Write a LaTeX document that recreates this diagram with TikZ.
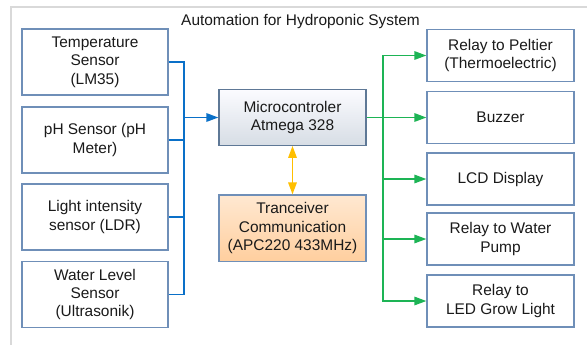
\documentclass[tikz,border=0pt]{standalone}
\usepackage{fontspec}
\setmainfont{Liberation Sans}
\usetikzlibrary{arrows.meta}
\definecolor{bord}{HTML}{6F8FB8}
\definecolor{mcbord}{HTML}{5E7896}
\definecolor{frame}{HTML}{D9D9D9}
\definecolor{blueline}{HTML}{0A70C8}
\definecolor{greenline}{HTML}{1DB455}
\definecolor{orangeline}{HTML}{FFBF00}
\definecolor{txt}{HTML}{1A1A1A}
\begin{document}
\begin{tikzpicture}[x=1bp,y=-1bp,
  txtfont/.style={font=\fontsize{15.5}{18.5}\selectfont, text=txt},
  box/.style={draw=bord, line width=1.3bp, fill=white, align=center, inner sep=0pt, txtfont},
  lbox/.style={box, minimum width=146bp, minimum height=66bp},
  rbox/.style={box, minimum width=147bp, minimum height=52bp},
  bconn/.style={draw=blueline, line width=1.6bp},
  gconn/.style={draw=greenline, line width=1.6bp},
  oconn/.style={draw=orangeline, line width=1.6bp},
  tip/.style={-{Triangle[length=12bp,width=8.5bp]}},
  tips/.style={{Triangle[length=12bp,width=8.5bp]}-{Triangle[length=12bp,width=8.5bp]}}
]
\useasboundingbox (0,0) rectangle (587,344);
\draw[frame, line width=1.6bp] (11,400) -- (11,7) -- (620,7);
\node[txtfont] (title) at (300.5,22) {Automation for Hydroponic System};

\node[lbox] (t1) at (95,62) {Temperature\\Sensor\\(LM35)};
\node[lbox] (t2) at (95,140) {pH Sensor (pH\\Meter)};
\node[lbox] (t3) at (95,217) {Light intensity\\sensor (LDR)};
\node[lbox] (t4) at (95,294.5) {Water Level\\Sensor\\(Ultrasonik)};

\node[box, draw=mcbord, top color=white!96!blue!40, bottom color=mcbord!25, minimum width=147bp, minimum height=55.5bp] (mc) at (292.5,117.5) {Microcontroler\\Atmega 328};
\node[box, draw=bord, top color=orange!18!white, bottom color=orange!38!white, minimum width=147bp, minimum height=66.5bp] (tr) at (292.5,228.3) {Tranceiver\\Communication\\(APC220 433MHz)};

\node[rbox] (r1) at (500.5,55.5) {Relay to Peltier\\(Thermoelectric)};
\node[rbox] (r2) at (500.5,117.5) {Buzzer};
\node[rbox] (r3) at (500.5,179) {LCD Display};
\node[rbox] (r4) at (500.5,239) {Relay to Water\\Pump};
\node[rbox] (r5) at (500.5,301) {Relay to\\LED Grow Light};

\coordinate (bj) at (184,117.5);
\draw[bconn] (t1.east) -| (bj);
\draw[bconn] (t4.east) -| (bj);
\draw[bconn] (t2.east) -| (bj);
\draw[bconn] (t3.east) -| (bj);
\draw[bconn, tip] (bj) -- (mc.west);

\coordinate (gj) at (383,117.5);
\draw[gconn, tip] (mc.east) -- (r2.west);
\draw[gconn, tip] (gj) |- (r1.west);
\draw[gconn, tip] (gj) |- (r3.west);
\draw[gconn, tip] (gj) |- (r4.west);
\draw[gconn, tip] (gj) |- (r5.west);

\draw[oconn, tips] (mc.south) -- (tr.north);
\end{tikzpicture}
\end{document}
